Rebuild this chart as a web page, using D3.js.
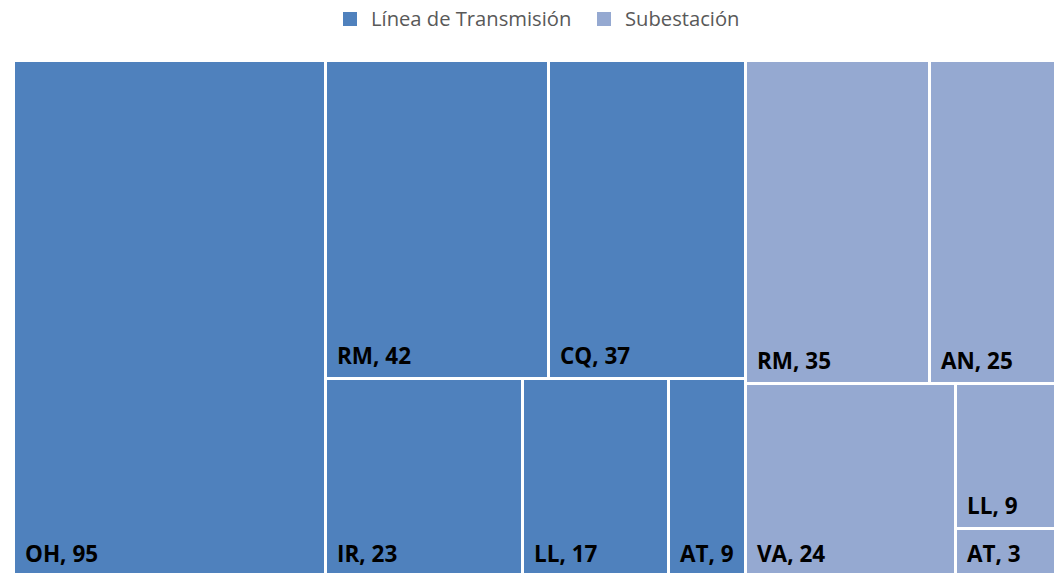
<!DOCTYPE html>
<html>
<head>
<meta charset="utf-8">
<script src="https://cdn.jsdelivr.net/npm/d3@7"></script>
<style>
  body { margin: 0; background: #fff; }
  svg { display: block; }
</style>
</head>
<body>
<script>
// groups (series) and their colours
var groups = ["Línea de Transmisión", "Subestación"];
var groupColors = ["#4f81bd", "#95a9d1"];

// items per group
var lineaNames = ["OH", "RM", "CQ", "IR", "LL", "AT"];
var lineaValues = [95, 42, 37, 23, 17, 9];
var subNames = ["RM", "AN", "VA", "LL", "AT"];
var subValues = [35, 25, 24, 9, 3];

var width = 1054, height = 573;
// plot area (runs slightly past the window, like the reference)
var plotLeft = 15, plotTop = 62, plotW = 1044, plotH = 513;

var tree = {
    name: "root",
    children: [
        { name: groups[0], children: lineaNames.map(function (n, i) { return { name: n, value: lineaValues[i] }; }) },
        { name: groups[1], children: subNames.map(function (n, i) { return { name: n, value: subValues[i] }; }) }
    ]
};

var root = d3.hierarchy(tree)
    .sum(function (d) { return d.value || 0; })
    .sort(function (a, b) { return b.value - a.value; });

d3.treemap()
    .tile(d3.treemapSquarify.ratio(1.25))
    .size([plotW, plotH])
    .paddingInner(3)
    .round(true)(root);

var color = d3.scaleOrdinal().domain(groups).range(groupColors);

var svg = d3.select("body").append("svg")
    .attr("width", width)
    .attr("height", height);

var plot = svg.append("g")
    .attr("transform", "translate(" + plotLeft + "," + plotTop + ")");

var cell = plot.selectAll(".cell")
    .data(root.leaves())
    .enter().append("g")
    .attr("class", "cell")
    .attr("transform", function (d) { return "translate(" + d.x0 + "," + d.y0 + ")"; });

cell.append("rect")
    .attr("width", function (d) { return d.x1 - d.x0; })
    .attr("height", function (d) { return d.y1 - d.y0; })
    .attr("fill", function (d) { return color(d.parent.data.name); });

cell.append("text")
    .attr("x", 10)
    .attr("y", function (d) { return d.y1 - d.y0 - 13; })
    .attr("font-family", "'Open Sans', sans-serif")
    .attr("font-weight", "bold")
    .attr("font-size", 22.5)
    .attr("fill", "#000")
    .text(function (d) { return d.data.name + ", " + d.data.value; });

// legend
var legend = svg.append("g").attr("class", "legend");
var legendX = [343, 597];
groups.forEach(function (g, i) {
    legend.append("rect")
        .attr("x", legendX[i])
        .attr("y", 12)
        .attr("width", 14)
        .attr("height", 14)
        .attr("fill", color(g));
    legend.append("text")
        .attr("x", legendX[i] + 28)
        .attr("y", 26)
        .attr("font-family", "'Open Sans', sans-serif")
        .attr("font-size", 20.2)
        .attr("fill", "#595959")
        .text(g);
});
</script>
</body>
</html>
